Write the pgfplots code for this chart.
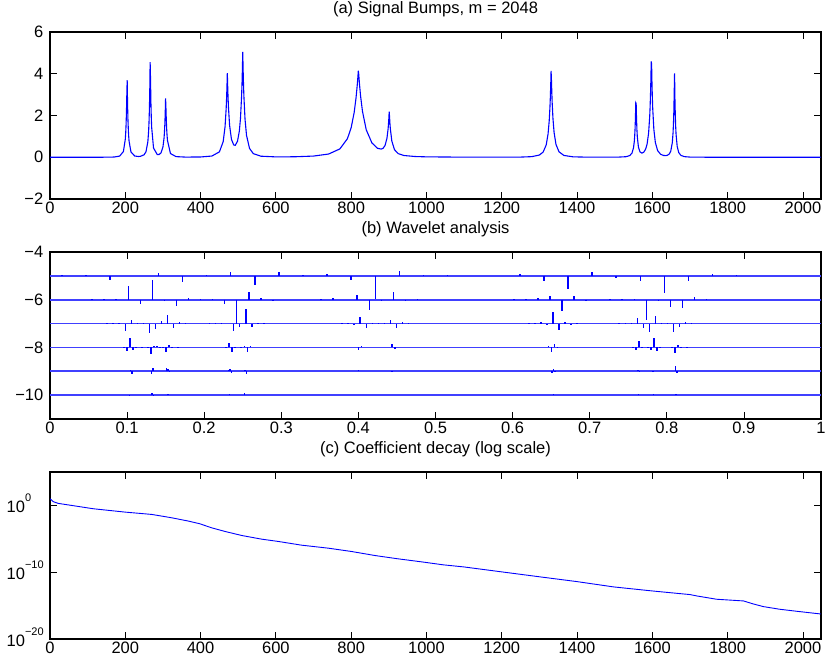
\documentclass[border=0pt]{standalone}
\usepackage{fontspec}
\setmainfont{Liberation Sans}
\usepackage{pgfplots}
\pgfplotsset{compat=1.18}
\definecolor{mblue}{RGB}{0,0,255}
\newcommand{\supr}[1]{\raisebox{11pt}{\fontsize{11}{12}\selectfont #1}}
\pgfplotsset{
  common/.style={
    scale only axis, width=771pt, height=167pt,
    axis line style={line width=1.1pt, black},
    tick style={black, line width=0.8pt},
    major tick length=7pt,
    tick align=inside,
    ticklabel style={font=\fontsize{16.5}{19}\selectfont, inner sep=0pt},
    xticklabel style={yshift=-3pt},
    title style={font=\fontsize{16.5}{19}\selectfont, at={(0.5,1)}, anchor=base, yshift=12.5pt},
  },
  spk/.style={color=mblue, line width=1.5pt, mark=none, solid},
  bl/.style={color=mblue!75!white, line width=1.6pt, mark=none, solid},
}
\begin{document}
\begin{tikzpicture}
\useasboundingbox (0pt,0pt) rectangle (826pt,-669pt);
% ---------------- (a)
\begin{axis}[common, at={(50pt,-199pt)}, anchor=south west,
  xmin=0, xmax=2048, ymin=-2, ymax=6,
  xtick={0,200,400,600,800,1000,1200,1400,1600,1800,2000},
  xticklabels={0,200,400,600,800,1000,1200,1400,1600,1800,2000},
  ytick={-2,0,2,4,6}, yticklabels={−2,0,2,4,6},
  yticklabel style={xshift=-6.5pt},
  title={(a) Signal Bumps, m = 2048}]
\addplot[mblue, line width=1.1pt] coordinates {
(0,0.0002)(100,0.0004)(150,0.003)(170,0.011)(185,0.055)(195,0.275)(200,0.861)(201,1.13)(202,1.52)(203,2.09)(204,2.96)(205,3.70)(206,2.57)(207,1.84)(208,1.35)(209,1.01)(210,0.777)(215,0.256)(225,0.060)(235,0.036)(240,0.043)(250,0.12)(255,0.265)(260,0.754)(262,1.26)(263,1.67)(264,2.27)(265,3.18)(266,4.56)(267,3.77)(268,2.66)(269,1.94)(270,1.445)(275,0.442)(285,0.127)(290,0.132)(295,0.215)(300,0.49)(303,0.936)(304,1.20)(305,1.56)(306,2.075)(307,2.82)(308,2.34)(309,1.745)(310,1.327)(311,1.03)(312,0.808)(320,0.177)(335,0.030)(360,0.0077)(400,0.0135)(430,0.0585)(450,0.258)(460,0.747)(465,1.467)(468,2.353)(469,2.79)(470,3.34)(471,4.03)(472,3.40)(473,2.85)(474,2.41)(477,1.535)(482,0.857)(488,0.59)(492,0.57)(498,0.764)(503,1.26)(506,1.87)(509,2.96)(510,3.50)(511,4.19)(512,5.05)(513,4.18)(514,3.49)(515,2.94)(518,1.83)(522,1.05)(530,0.423)(540,0.175)(560,0.0506)(600,0.0175)(650,0.023)(700,0.057)(740,0.154)(770,0.40)(790,0.889)(800,1.417)(808,2.15)(813,2.86)(816,3.43)(817,3.65)(818,3.89)(819,4.15)(820,3.99)(822,3.52)(825,2.93)(830,2.20)(840,1.317)(855,0.688)(870,0.429)(880,0.391)(885,0.434)(890,0.566)(895,0.907)(898,1.346)(899,1.57)(900,1.843)(901,2.19)(902,1.913)(903,1.61)(904,1.372)(908,0.777)(915,0.363)(925,0.172)(940,0.084)(970,0.035)(1000,0.019)(1100,0.0047)(1200,0.0031)(1250,0.0081)(1280,0.0295)(1300,0.107)(1310,0.251)(1318,0.588)(1323,1.118)(1326,1.739)(1328,2.406)(1329,2.86)(1330,3.424)(1331,4.136)(1332,3.689)(1333,3.07)(1334,2.575)(1336,1.852)(1339,1.183)(1344,0.617)(1352,0.261)(1365,0.087)(1390,0.019)(1430,0.0042)(1480,0.0027)(1510,0.0072)(1530,0.0266)(1540,0.0795)(1546,0.203)(1550,0.458)(1552,0.751)(1553,0.99)(1554,1.331)(1555,1.836)(1556,2.614)(1557,2.577)(1558,1.82)(1559,1.33)(1560,0.994)(1563,0.487)(1567,0.260)(1572,0.198)(1577,0.239)(1582,0.38)(1586,0.628)(1590,1.151)(1593,1.963)(1594,2.39)(1595,2.934)(1596,3.65)(1597,4.594)(1598,4.465)(1599,3.552)(1600,2.86)(1601,2.33)(1604,1.333)(1608,0.703)(1614,0.319)(1622,0.141)(1630,0.0845)(1636,0.079)(1640,0.095)(1645,0.159)(1649,0.299)(1653,0.698)(1655,1.174)(1656,1.571)(1657,2.152)(1658,3.032)(1659,4.02)(1660,2.783)(1661,1.99)(1662,1.46)(1663,1.096)(1666,0.516)(1670,0.228)(1676,0.087)(1685,0.0296)(1700,0.0085)(1750,0.0009)(1850,0.0002)(2047,0.0001)
};
\end{axis}
% ---------------- (b)
\begin{axis}[common, at={(50pt,-419pt)}, anchor=south west,
  xmin=0, xmax=1, ymin=-11, ymax=-4,
  unbounded coords=jump,
  xtick={0,0.1,0.2,0.3,0.4,0.5,0.6,0.7,0.8,0.9,1},
  xticklabels={0,0.1,0.2,0.3,0.4,0.5,0.6,0.7,0.8,0.9,1},
  ytick={-10,-8,-6,-4}, yticklabels={−10,−8,−6,−4},
  yticklabel style={xshift=-6.5pt},
  title={(b) Wavelet analysis}]
\addplot[bl] coordinates {(0,-5)(1,-5)};
\addplot[bl] coordinates {(0,-6)(1,-6)};
\addplot[bl] coordinates {(0,-7)(1,-7)};
\addplot[bl] coordinates {(0,-8)(1,-8)};
\addplot[bl] coordinates {(0,-9)(1,-9)};
\addplot[bl] coordinates {(0,-10)(1,-10)};
% level 5
\addplot[spk] coordinates {
(0.0156,-5)(0.0156,-4.98)(0.0156,nan)
(0.0469,-5)(0.0469,-4.98)(0.0469,nan)
(0.0781,-5)(0.0781,-5.17)(0.0781,nan)
(0.1406,-5)(0.1406,-4.86)(0.1406,nan)
(0.1719,-5)(0.1719,-5.24)(0.1719,nan)
(0.2031,-5)(0.2031,-4.98)(0.2031,nan)
(0.2344,-5)(0.2344,-4.82)(0.2344,nan)
(0.2656,-5)(0.2656,-5.38)(0.2656,nan)
(0.2969,-5)(0.2969,-4.82)(0.2969,nan)
(0.3281,-5)(0.3281,-4.97)(0.3281,nan)
(0.3594,-5)(0.3594,-4.92)(0.3594,nan)
(0.3906,-5)(0.3906,-5.17)(0.3906,nan)
(0.4219,-5)(0.4219,-5.98)(0.4219,nan)
(0.4531,-5)(0.4531,-4.78)(0.4531,nan)
(0.4844,-5)(0.4844,-4.98)(0.4844,nan)
(0.5156,-5)(0.5156,-4.98)(0.5156,nan)
(0.6094,-5)(0.6094,-4.92)(0.6094,nan)
(0.6406,-5)(0.6406,-5.22)(0.6406,nan)
(0.6719,-5)(0.6719,-5.57)(0.6719,nan)
(0.7031,-5)(0.7031,-4.85)(0.7031,nan)
(0.7344,-5)(0.7344,-5.07)(0.7344,nan)
(0.7656,-5)(0.7656,-5.21)(0.7656,nan)
(0.7969,-5)(0.7969,-5.73)(0.7969,nan)
(0.8281,-5)(0.8281,-5.20)(0.8281,nan)
(0.8594,-5)(0.8594,-4.93)(0.8594,nan)
(0.8906,-5)(0.8906,-4.97)(0.8906,nan)
};
% level 6
\addplot[spk] coordinates {
(0.0547,-6)(0.0547,-5.97)(0.0547,nan)
(0.0703,-6)(0.0703,-5.97)(0.0703,nan)
(0.0859,-6)(0.0859,-5.97)(0.0859,nan)
(0.1016,-6)(0.1016,-5.43)(0.1016,nan)
(0.1172,-6)(0.1172,-6.18)(0.1172,nan)
(0.1328,-6)(0.1328,-5.17)(0.1328,nan)
(0.1484,-6)(0.1484,-6.05)(0.1484,nan)
(0.1641,-6)(0.1641,-6.28)(0.1641,nan)
(0.1797,-6)(0.1797,-5.93)(0.1797,nan)
(0.1953,-6)(0.1953,-5.97)(0.1953,nan)
(0.2109,-6)(0.2109,-5.97)(0.2109,nan)
(0.2266,-6)(0.2266,-6.17)(0.2266,nan)
(0.2422,-6)(0.2422,-7.00)(0.2422,nan)
(0.2578,-6)(0.2578,-5.66)(0.2578,nan)
(0.2734,-6)(0.2734,-5.92)(0.2734,nan)
(0.2891,-6)(0.2891,-6.03)(0.2891,nan)
(0.3516,-6)(0.3516,-5.97)(0.3516,nan)
(0.3672,-6)(0.3672,-5.93)(0.3672,nan)
(0.3984,-6)(0.3984,-5.80)(0.3984,nan)
(0.4141,-6)(0.4141,-6.41)(0.4141,nan)
(0.4297,-6)(0.4297,-6.04)(0.4297,nan)
(0.4453,-6)(0.4453,-5.69)(0.4453,nan)
(0.4609,-6)(0.4609,-6.04)(0.4609,nan)
(0.4766,-6)(0.4766,-5.97)(0.4766,nan)
(0.6016,-6)(0.6016,-5.97)(0.6016,nan)
(0.6172,-6)(0.6172,-5.97)(0.6172,nan)
(0.6328,-6)(0.6328,-5.93)(0.6328,nan)
(0.6484,-6)(0.6484,-5.85)(0.6484,nan)
(0.6641,-6)(0.6641,-6.49)(0.6641,nan)
(0.6797,-6)(0.6797,-5.86)(0.6797,nan)
(0.6953,-6)(0.6953,-6.05)(0.6953,nan)
(0.7266,-6)(0.7266,-5.97)(0.7266,nan)
(0.7422,-6)(0.7422,-5.97)(0.7422,nan)
(0.7578,-6)(0.7578,-5.97)(0.7578,nan)
(0.7734,-6)(0.7734,-6.87)(0.7734,nan)
(0.7891,-6)(0.7891,-6.04)(0.7891,nan)
(0.8047,-6)(0.8047,-6.29)(0.8047,nan)
(0.8203,-6)(0.8203,-6.34)(0.8203,nan)
(0.8359,-6)(0.8359,-5.90)(0.8359,nan)
(0.8516,-6)(0.8516,-5.97)(0.8516,nan)
};
% level 7
\addplot[spk] coordinates {
(0.0742,-7)(0.0742,-6.98)(0.0742,nan)
(0.0820,-7)(0.0820,-6.98)(0.0820,nan)
(0.0898,-7)(0.0898,-6.97)(0.0898,nan)
(0.0977,-7)(0.0977,-7.31)(0.0977,nan)
(0.1055,-7)(0.1055,-6.86)(0.1055,nan)
(0.1133,-7)(0.1133,-6.98)(0.1133,nan)
(0.1211,-7)(0.1211,-6.98)(0.1211,nan)
(0.1289,-7)(0.1289,-7.41)(0.1289,nan)
(0.1367,-7)(0.1367,-7.21)(0.1367,nan)
(0.1445,-7)(0.1445,-6.89)(0.1445,nan)
(0.1523,-7)(0.1523,-6.65)(0.1523,nan)
(0.1602,-7)(0.1602,-7.17)(0.1602,nan)
(0.1680,-7)(0.1680,-6.95)(0.1680,nan)
(0.1758,-7)(0.1758,-6.98)(0.1758,nan)
(0.2070,-7)(0.2070,-6.98)(0.2070,nan)
(0.2148,-7)(0.2148,-6.98)(0.2148,nan)
(0.2227,-7)(0.2227,-6.98)(0.2227,nan)
(0.2383,-7)(0.2383,-7.30)(0.2383,nan)
(0.2461,-7)(0.2461,-7.13)(0.2461,nan)
(0.2539,-7)(0.2539,-6.38)(0.2539,nan)
(0.2617,-7)(0.2617,-7.13)(0.2617,nan)
(0.2695,-7)(0.2695,-6.96)(0.2695,nan)
(0.2773,-7)(0.2773,-6.98)(0.2773,nan)
(0.3789,-7)(0.3789,-6.98)(0.3789,nan)
(0.3867,-7)(0.3867,-6.98)(0.3867,nan)
(0.3945,-7)(0.3945,-7.07)(0.3945,nan)
(0.4023,-7)(0.4023,-6.72)(0.4023,nan)
(0.4102,-7)(0.4102,-7.17)(0.4102,nan)
(0.4180,-7)(0.4180,-6.96)(0.4180,nan)
(0.4258,-7)(0.4258,-6.98)(0.4258,nan)
(0.4336,-7)(0.4336,-6.98)(0.4336,nan)
(0.4414,-7)(0.4414,-6.85)(0.4414,nan)
(0.4492,-7)(0.4492,-7.17)(0.4492,nan)
(0.4570,-7)(0.4570,-6.94)(0.4570,nan)
(0.4648,-7)(0.4648,-6.98)(0.4648,nan)
(0.6211,-7)(0.6211,-6.98)(0.6211,nan)
(0.6289,-7)(0.6289,-6.98)(0.6289,nan)
(0.6367,-7)(0.6367,-6.93)(0.6367,nan)
(0.6445,-7)(0.6445,-7.05)(0.6445,nan)
(0.6523,-7)(0.6523,-6.50)(0.6523,nan)
(0.6602,-7)(0.6602,-7.25)(0.6602,nan)
(0.6680,-7)(0.6680,-6.92)(0.6680,nan)
(0.6758,-7)(0.6758,-7.03)(0.6758,nan)
(0.6836,-7)(0.6836,-6.98)(0.6836,nan)
(0.7383,-7)(0.7383,-6.98)(0.7383,nan)
(0.7461,-7)(0.7461,-6.98)(0.7461,nan)
(0.7539,-7)(0.7539,-6.98)(0.7539,nan)
(0.7617,-7)(0.7617,-6.76)(0.7617,nan)
(0.7695,-7)(0.7695,-7.17)(0.7695,nan)
(0.7773,-7)(0.7773,-7.34)(0.7773,nan)
(0.7852,-7)(0.7852,-6.69)(0.7852,nan)
(0.7930,-7)(0.7930,-6.98)(0.7930,nan)
(0.8008,-7)(0.8008,-6.98)(0.8008,nan)
(0.8086,-7)(0.8086,-7.36)(0.8086,nan)
(0.8164,-7)(0.8164,-7.14)(0.8164,nan)
(0.8242,-7)(0.8242,-6.92)(0.8242,nan)
(0.8320,-7)(0.8320,-6.98)(0.8320,nan)
};
% level 8
\addplot[spk] coordinates {
(0.0957,-8)(0.0957,-7.97)(0.0957,nan)
(0.0996,-8)(0.0996,-8.14)(0.0996,nan)
(0.1035,-8)(0.1035,-7.62)(0.1035,nan)
(0.1074,-8)(0.1074,-8.11)(0.1074,nan)
(0.1113,-8)(0.1113,-7.98)(0.1113,nan)
(0.1191,-8)(0.1191,-7.98)(0.1191,nan)
(0.1270,-8)(0.1270,-7.97)(0.1270,nan)
(0.1309,-8)(0.1309,-8.29)(0.1309,nan)
(0.1348,-8)(0.1348,-7.95)(0.1348,nan)
(0.1387,-8)(0.1387,-7.96)(0.1387,nan)
(0.1426,-8)(0.1426,-7.98)(0.1426,nan)
(0.1465,-8)(0.1465,-7.98)(0.1465,nan)
(0.1504,-8)(0.1504,-8.18)(0.1504,nan)
(0.1543,-8)(0.1543,-7.89)(0.1543,nan)
(0.1582,-8)(0.1582,-7.97)(0.1582,nan)
(0.1660,-8)(0.1660,-7.98)(0.1660,nan)
(0.2285,-8)(0.2285,-7.97)(0.2285,nan)
(0.2324,-8)(0.2324,-7.83)(0.2324,nan)
(0.2363,-8)(0.2363,-8.18)(0.2363,nan)
(0.2402,-8)(0.2402,-7.97)(0.2402,nan)
(0.2480,-8)(0.2480,-7.97)(0.2480,nan)
(0.2520,-8)(0.2520,-7.94)(0.2520,nan)
(0.2559,-8)(0.2559,-8.21)(0.2559,nan)
(0.2598,-8)(0.2598,-7.93)(0.2598,nan)
(0.4004,-8)(0.4004,-8.10)(0.4004,nan)
(0.4043,-8)(0.4043,-7.95)(0.4043,nan)
(0.4434,-8)(0.4434,-7.86)(0.4434,nan)
(0.4473,-8)(0.4473,-8.07)(0.4473,nan)
(0.6465,-8)(0.6465,-7.96)(0.6465,nan)
(0.6504,-8)(0.6504,-8.18)(0.6504,nan)
(0.6543,-8)(0.6543,-7.86)(0.6543,nan)
(0.6582,-8)(0.6582,-7.98)(0.6582,nan)
(0.7559,-8)(0.7559,-7.97)(0.7559,nan)
(0.7598,-8)(0.7598,-8.11)(0.7598,nan)
(0.7637,-8)(0.7637,-7.75)(0.7637,nan)
(0.7676,-8)(0.7676,-8.04)(0.7676,nan)
(0.7754,-8)(0.7754,-7.98)(0.7754,nan)
(0.7793,-8)(0.7793,-8.10)(0.7793,nan)
(0.7832,-8)(0.7832,-7.61)(0.7832,nan)
(0.7871,-8)(0.7871,-8.15)(0.7871,nan)
(0.7910,-8)(0.7910,-7.98)(0.7910,nan)
(0.8066,-8)(0.8066,-7.98)(0.8066,nan)
(0.8105,-8)(0.8105,-8.25)(0.8105,nan)
(0.8145,-8)(0.8145,-7.89)(0.8145,nan)
(0.8184,-8)(0.8184,-7.98)(0.8184,nan)
(0.8262,-8)(0.8262,-7.98)(0.8262,nan)
};
% level 9
\addplot[spk] coordinates {
(0.1045,-9)(0.1045,-8.96)(0.1045,nan)
(0.1064,-9)(0.1064,-9.11)(0.1064,nan)
(0.1318,-9)(0.1318,-9.12)(0.1318,nan)
(0.1338,-9)(0.1338,-8.88)(0.1338,nan)
(0.1514,-9)(0.1514,-8.88)(0.1514,nan)
(0.1533,-9)(0.1533,-8.90)(0.1533,nan)
(0.1553,-9)(0.1553,-9.05)(0.1553,nan)
(0.2314,-9)(0.2314,-8.95)(0.2314,nan)
(0.2334,-9)(0.2334,-8.89)(0.2334,nan)
(0.2354,-9)(0.2354,-9.07)(0.2354,nan)
(0.2529,-9)(0.2529,-8.94)(0.2529,nan)
(0.2549,-9)(0.2549,-9.10)(0.2549,nan)
(0.4004,-9)(0.4004,-8.95)(0.4004,nan)
(0.4434,-9)(0.4434,-8.97)(0.4434,nan)
(0.6514,-9)(0.6514,-9.06)(0.6514,nan)
(0.6533,-9)(0.6533,-8.89)(0.6533,nan)
(0.6553,-9)(0.6553,-9.05)(0.6553,nan)
(0.7627,-9)(0.7627,-8.93)(0.7627,nan)
(0.7646,-9)(0.7646,-9.05)(0.7646,nan)
(0.7822,-9)(0.7822,-9.05)(0.7822,nan)
(0.8115,-9)(0.8115,-8.78)(0.8115,nan)
(0.8135,-9)(0.8135,-9.08)(0.8135,nan)
};
% level 10
\addplot[spk] coordinates {
(0.1030,-10)(0.1030,-10.04)(0.1030,nan)
(0.1323,-10)(0.1323,-9.89)(0.1323,nan)
(0.1343,-10)(0.1343,-10.03)(0.1343,nan)
(0.1528,-10)(0.1528,-9.97)(0.1528,nan)
(0.2329,-10)(0.2329,-9.97)(0.2329,nan)
(0.2524,-10)(0.2524,-9.92)(0.2524,nan)
(0.6528,-10)(0.6528,-9.97)(0.6528,nan)
(0.7632,-10)(0.7632,-9.96)(0.7632,nan)
(0.7827,-10)(0.7827,-9.97)(0.7827,nan)
(0.8120,-10)(0.8120,-9.96)(0.8120,nan)
};
\end{axis}
% ---------------- (c)
\begin{axis}[common, at={(50pt,-639pt)}, anchor=south west,
  xmin=0, xmax=2048, ymode=log, ymin=1e-20, ymax=1e5,
  xtick={0,200,400,600,800,1000,1200,1400,1600,1800,2000},
  xticklabels={0,200,400,600,800,1000,1200,1400,1600,1800,2000},
  ytick={1e-20,1e-10,1}, yticklabels={10\supr{−20},10\supr{−10},10\supr{0}},
  yticklabel style={anchor=base west, xshift=-43.5pt, yshift=-7pt},
  minor ytick={},
  title={(c) Coefficient decay (log scale)}]
\addplot[mblue, line width=0.9pt] coordinates {
(0,10)(9,3.55)(22,2.0)(57,1.0)(115,0.316)(199,0.1)(270,0.0447)(323,0.0141)(368,4.47e-3)(398,1.78e-3)(429,4.47e-4)(465,1.26e-4)(509,3.16e-5)(562,8.91e-6)(607,3.98e-6)(668,1.12e-6)(739,3.98e-7)(801,1.26e-7)(863,3.16e-8)(925,1e-8)(987,3.55e-9)(1045,1.26e-9)(1098,6.31e-10)(1200,1.12e-10)(1302,2.0e-11)(1399,3.98e-12)(1497,6.31e-13)(1599,1.58e-13)(1700,4.47e-14)(1718,2.82e-14)(1771,8.91e-15)(1842,5.01e-15)(1868,1.78e-15)(1895,7.08e-16)(1939,2.82e-16)(1984,1.41e-16)(2047,5.62e-17)
};
\end{axis}
\end{tikzpicture}
\end{document}
